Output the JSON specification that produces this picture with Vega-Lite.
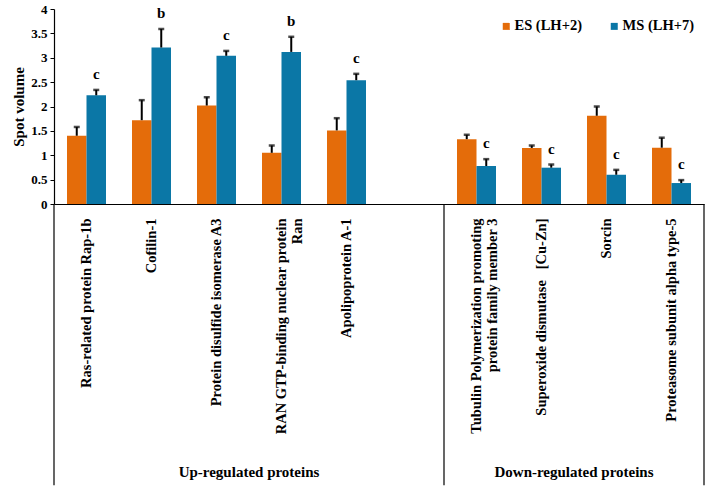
{
  "$schema": "https://vega.github.io/schema/vega-lite/v6.json",
  "width": 650,
  "height": 195,
  "autosize": {"type": "none"},
  "padding": {"left": 54, "top": 9, "right": 4, "bottom": 286},
  "background": "white",
  "config": {
    "font": "Liberation Serif",
    "view": {"stroke": null},
    "axis": {"labelFont": "Liberation Serif", "titleFont": "Liberation Serif", "labelColor": "black", "titleColor": "black"},
    "axisY": {
      "titleFontSize": 15,
      "titleFontWeight": "bold",
      "titlePadding": 4,
      "labelOverlap": false,
      "labelFontSize": 13,
      "labelFontWeight": "bold",
      "labelPadding": 3,
      "tickSize": 4,
      "tickColor": "black",
      "domainColor": "black",
      "domainWidth": 1.2,
      "grid": false
    },
    "legend": {"labelFont": "Liberation Serif"}
  },
  "datasets": {
    "bars": [
      {"protein": "Ras-related protein Rap-1b", "stage": "ES (LH+2)", "value": 1.40, "upper": 1.58, "letter": ""},
      {"protein": "Ras-related protein Rap-1b", "stage": "MS (LH+7)", "value": 2.23, "upper": 2.34, "letter": "c"},
      {"protein": "Cofilin-1", "stage": "ES (LH+2)", "value": 1.72, "upper": 2.13, "letter": ""},
      {"protein": "Cofilin-1", "stage": "MS (LH+7)", "value": 3.21, "upper": 3.59, "letter": "b"},
      {"protein": "Protein disulfide isomerase A3", "stage": "ES (LH+2)", "value": 2.02, "upper": 2.19, "letter": ""},
      {"protein": "Protein disulfide isomerase A3", "stage": "MS (LH+7)", "value": 3.04, "upper": 3.14, "letter": "c"},
      {"protein": "RAN GTP-binding nuclear protein Ran", "stage": "ES (LH+2)", "value": 1.05, "upper": 1.20, "letter": ""},
      {"protein": "RAN GTP-binding nuclear protein Ran", "stage": "MS (LH+7)", "value": 3.12, "upper": 3.43, "letter": "b"},
      {"protein": "Apolipoprotein A-1", "stage": "ES (LH+2)", "value": 1.51, "upper": 1.76, "letter": ""},
      {"protein": "Apolipoprotein A-1", "stage": "MS (LH+7)", "value": 2.54, "upper": 2.67, "letter": "c"},
      {"protein": "Tubulin Polymerization promoting protein family member 3", "stage": "ES (LH+2)", "value": 1.33, "upper": 1.42, "letter": ""},
      {"protein": "Tubulin Polymerization promoting protein family member 3", "stage": "MS (LH+7)", "value": 0.78, "upper": 0.92, "letter": "c"},
      {"protein": "Superoxide dismutase [Cu-Zn]", "stage": "ES (LH+2)", "value": 1.15, "upper": 1.20, "letter": ""},
      {"protein": "Superoxide dismutase [Cu-Zn]", "stage": "MS (LH+7)", "value": 0.745, "upper": 0.81, "letter": "c"},
      {"protein": "Sorcin", "stage": "ES (LH+2)", "value": 1.81, "upper": 2.00, "letter": ""},
      {"protein": "Sorcin", "stage": "MS (LH+7)", "value": 0.60, "upper": 0.70, "letter": "c"},
      {"protein": "Proteasome subunit alpha type-5", "stage": "ES (LH+2)", "value": 1.155, "upper": 1.36, "letter": ""},
      {"protein": "Proteasome subunit alpha type-5", "stage": "MS (LH+7)", "value": 0.43, "upper": 0.49, "letter": "c"}
    ]
  },
  "encoding": {
    "x": {
      "field": "protein",
      "type": "nominal",
      "sort": null,
      "scale": {
        "domain": ["Ras-related protein Rap-1b", "Cofilin-1", "Protein disulfide isomerase A3", "RAN GTP-binding nuclear protein Ran", "Apolipoprotein A-1", " ", "Tubulin Polymerization promoting protein family member 3", "Superoxide dismutase [Cu-Zn]", "Sorcin", "Proteasome subunit alpha type-5"],
        "paddingInner": 0,
        "paddingOuter": 0
      },
      "axis": {
        "title": null,
        "ticks": false,
        "domainColor": "black",
        "domainWidth": 1.2,
        "labelAngle": -90,
        "labelAlign": "right",
        "labelBaseline": "middle",
        "labelPadding": 14,
        "labelFontSize": 14.5,
        "labelFontWeight": "bold",
        "labelLimit": 400,
        "labelLineHeight": 16,
        "labelExpr": "datum.label == 'RAN GTP-binding nuclear protein Ran' ? ['RAN GTP-binding nuclear protein', 'Ran'] : datum.label == 'Tubulin Polymerization promoting protein family member 3' ? ['Tubulin Polymerization promoting', 'protein family member 3'] : datum.label == 'Superoxide dismutase [Cu-Zn]' ? 'Superoxide dismutase\u00a0\u00a0\u00a0[Cu-Zn]' : datum.label"
      }
    }
  },
  "layer": [
    {
      "data": {"name": "bars"},
      "mark": {"type": "bar"},
      "encoding": {
        "xOffset": {"field": "stage", "type": "nominal", "scale": {"domain": ["ES (LH+2)", "MS (LH+7)"], "paddingInner": 0, "paddingOuter": 0.667}},
        "y": {
          "field": "value",
          "type": "quantitative",
          "scale": {"domain": [0, 4], "nice": false, "zero": true},
          "axis": {"title": "Spot volume", "values": [0, 0.5, 1, 1.5, 2, 2.5, 3, 3.5, 4], "format": "~g", "labelFontWeight": "bold", "titleFontWeight": "bold"}
        },
        "color": {
          "field": "stage",
          "type": "nominal",
          "scale": {"domain": ["ES (LH+2)", "MS (LH+7)"], "range": ["#E46C0A", "#0B77A6"]},
          "legend": {
            "title": null,
            "orient": "top-right",
            "direction": "horizontal",
            "offset": 10,
            "padding": 0,
            "symbolType": "square",
            "symbolSize": 49,
            "symbolStrokeWidth": 0,
            "labelFontSize": 14.5,
            "labelFontWeight": "bold",
            "labelColor": "black",
            "labelOffset": 1,
            "columnPadding": 25
          }
        }
      }
    },
    {
      "data": {"name": "bars"},
      "mark": {"type": "rule", "color": "black", "strokeWidth": 2},
      "encoding": {
        "xOffset": {"field": "stage", "type": "nominal"},
        "y": {"field": "value", "type": "quantitative", "axis": {"title": "Spot volume", "values": [0, 0.5, 1, 1.5, 2, 2.5, 3, 3.5, 4], "format": "~g", "labelFontWeight": "bold", "titleFontWeight": "bold"}},
        "y2": {"field": "upper"}
      }
    },
    {
      "data": {"name": "bars"},
      "mark": {"type": "tick", "color": "black", "thickness": 2.5},
      "encoding": {
        "xOffset": {"field": "stage", "type": "nominal"},
        "y": {"field": "upper", "type": "quantitative", "axis": {"title": "Spot volume", "values": [0, 0.5, 1, 1.5, 2, 2.5, 3, 3.5, 4], "format": "~g", "labelFontWeight": "bold", "titleFontWeight": "bold"}},
        "size": {"value": 6}
      }
    },
    {
      "data": {"name": "bars"},
      "mark": {"type": "text", "fontSize": 15, "fontWeight": "bold", "color": "black", "baseline": "alphabetic", "dy": -11},
      "encoding": {
        "xOffset": {"field": "stage", "type": "nominal"},
        "y": {"field": "upper", "type": "quantitative", "axis": {"title": "Spot volume", "values": [0, 0.5, 1, 1.5, 2, 2.5, 3, 3.5, 4], "format": "~g", "labelFontWeight": "bold", "titleFontWeight": "bold"}},
        "text": {"field": "letter"}
      }
    },
    {
      "data": {"values": [{"protein": "Ras-related protein Rap-1b"}, {"protein": "Tubulin Polymerization promoting protein family member 3"}]},
      "mark": {"type": "rule", "color": "black", "strokeWidth": 1.2},
      "encoding": {
        "x": {"field": "protein", "type": "nominal", "bandPosition": 0},
        "y": {"datum": 0, "type": "quantitative", "axis": {"title": "Spot volume", "values": [0, 0.5, 1, 1.5, 2, 2.5, 3, 3.5, 4], "format": "~g", "labelFontWeight": "bold", "titleFontWeight": "bold"}},
        "y2": {"datum": -5.77}
      }
    },
    {
      "data": {"values": [{"protein": "Proteasome subunit alpha type-5"}]},
      "mark": {"type": "rule", "color": "black", "strokeWidth": 1.2},
      "encoding": {
        "x": {"field": "protein", "type": "nominal", "bandPosition": 1},
        "y": {"datum": 0, "type": "quantitative", "axis": {"title": "Spot volume", "values": [0, 0.5, 1, 1.5, 2, 2.5, 3, 3.5, 4], "format": "~g", "labelFontWeight": "bold", "titleFontWeight": "bold"}},
        "y2": {"datum": -5.77}
      }
    },
    {
      "data": {"values": [{"protein": "Protein disulfide isomerase A3", "group": "Up-regulated proteins"}]},
      "mark": {"type": "text", "fontSize": 15, "fontWeight": "bold", "color": "black", "baseline": "middle"},
      "encoding": {
        "x": {"field": "protein", "type": "nominal", "bandPosition": 1},
        "y": {"datum": -5.5, "type": "quantitative", "axis": {"title": "Spot volume", "values": [0, 0.5, 1, 1.5, 2, 2.5, 3, 3.5, 4], "format": "~g", "labelFontWeight": "bold", "titleFontWeight": "bold"}},
        "text": {"field": "group"}
      }
    },
    {
      "data": {"values": [{"protein": "Sorcin", "group": "Down-regulated proteins"}]},
      "mark": {"type": "text", "fontSize": 15, "fontWeight": "bold", "color": "black", "baseline": "middle"},
      "encoding": {
        "x": {"field": "protein", "type": "nominal", "bandPosition": 0},
        "y": {"datum": -5.5, "type": "quantitative", "axis": {"title": "Spot volume", "values": [0, 0.5, 1, 1.5, 2, 2.5, 3, 3.5, 4], "format": "~g", "labelFontWeight": "bold", "titleFontWeight": "bold"}},
        "text": {"field": "group"}
      }
    }
  ]
}
